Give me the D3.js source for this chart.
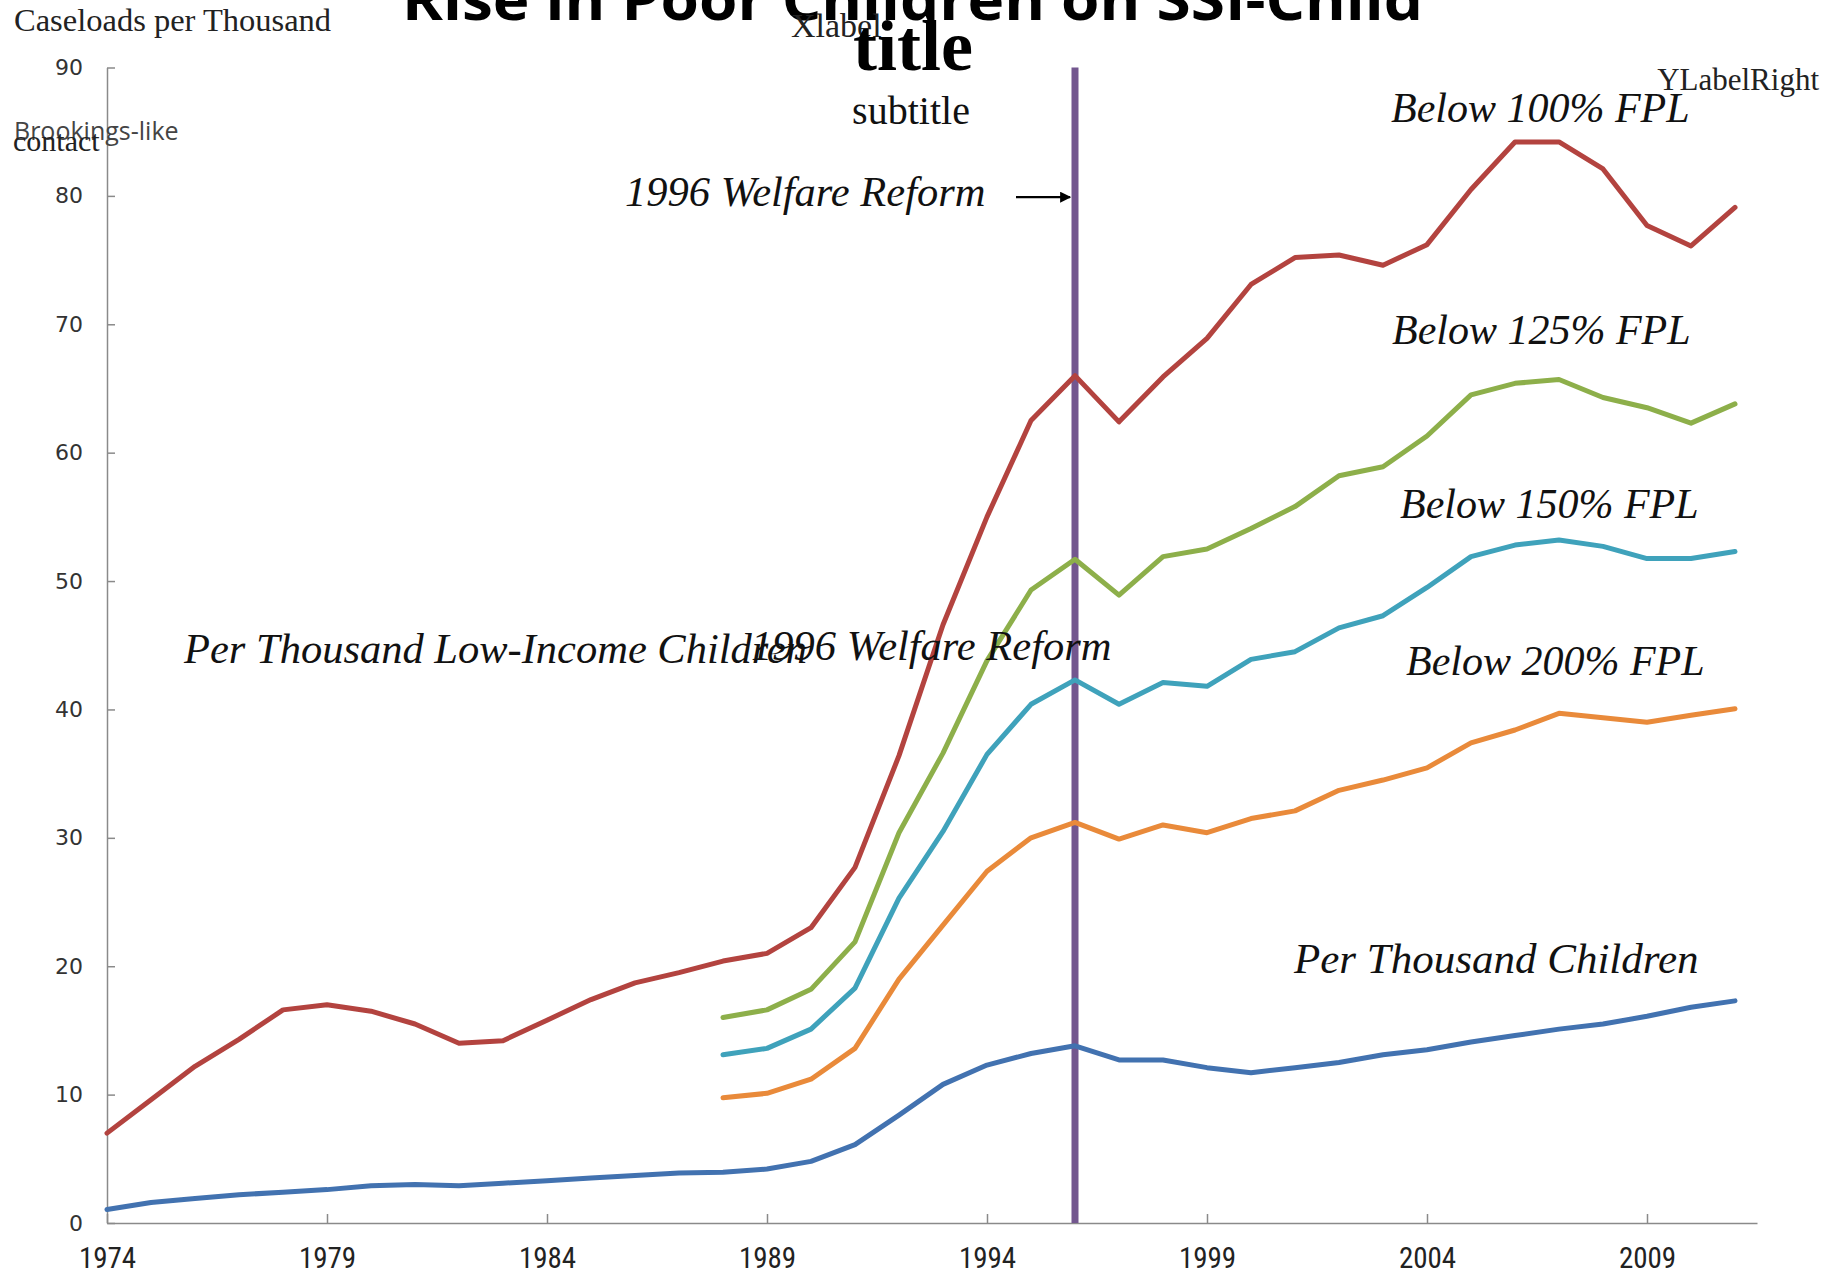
<!DOCTYPE html>
<html>
<head>
<meta charset="utf-8">
<script src="https://cdn.jsdelivr.net/npm/d3@7"></script>
<style>
  html, body { margin: 0; padding: 0; background: #ffffff; }
  svg { display: block; }
</style>
</head>
<body>
<script>
// SSI child caseloads per thousand, 1974-2011
const years = d3.range(1974, 2012);
const yearsFrom1988 = d3.range(1988, 2012);

// Per thousand low-income children (below 100% FPL), 1974-2011
const below100 = [7.0, 9.6, 12.2, 14.3, 16.6, 17.0, 16.5, 15.5, 14.0, 14.2,
                  15.8, 17.4, 18.7, 19.5, 20.4, 21.0, 23.0, 27.7, 36.4, 46.6,
                  55.0, 62.5, 66.0, 62.4, 65.9, 68.9, 73.1, 75.2, 75.4, 74.6,
                  76.2, 80.5, 84.2, 84.2, 82.1, 77.7, 76.1, 79.1];

// Per thousand children, 1974-2011
const perThousandChildren = [1.05, 1.6, 1.9, 2.2, 2.4, 2.6, 2.9, 3.0, 2.9, 3.1,
                             3.3, 3.5, 3.7, 3.9, 3.95, 4.2, 4.8, 6.1, 8.4, 10.8,
                             12.3, 13.2, 13.8, 12.7, 12.7, 12.1, 11.7, 12.1, 12.5, 13.1,
                             13.5, 14.1, 14.6, 15.1, 15.5, 16.1, 16.8, 17.3];

// Series available from 1988 onward
const below125 = [16.0, 16.6, 18.2, 21.9, 30.4, 36.6, 43.8, 49.3, 51.7, 48.9, 51.9, 52.5,
                  54.1, 55.8, 58.2, 58.9, 61.3, 64.5, 65.4, 65.7, 64.3, 63.5, 62.3, 63.8];
const below150 = [13.1, 13.6, 15.1, 18.3, 25.3, 30.5, 36.5, 40.4, 42.3, 40.4, 42.1, 41.8,
                  43.9, 44.5, 46.35, 47.3, 49.5, 51.9, 52.8, 53.2, 52.7, 51.75, 51.75, 52.3];
const below200 = [9.75, 10.1, 11.2, 13.6, 19.0, 23.2, 27.4, 30.0, 31.2, 29.9, 31.0, 30.4,
                  31.5, 32.1, 33.7, 34.5, 35.45, 37.4, 38.4, 39.7, 39.35, 39.0, 39.55, 40.05];

const yTicks = d3.range(0, 91, 10);
const xTicks = [1974, 1979, 1984, 1989, 1994, 1999, 2004, 2009];
const reformYear = 1996;

const W = 1825, H = 1276;
const svg = d3.select("body").append("svg")
  .attr("width", W).attr("height", H)
  .attr("viewBox", `0 0 ${W} ${H}`);

svg.append("rect").attr("width", W).attr("height", H).attr("fill", "#ffffff");

const x = d3.scaleLinear().domain([1974, 2011.5]).range([107, 1757]);
const y = d3.scaleLinear().domain([0, 90]).range([1223, 67.5]);

// Axes
const axisColor = "#8a8a8a";
const yAxis = svg.append("g")
  .attr("transform", `translate(${x(1974)},0)`)
  .call(d3.axisLeft(y).tickValues(yTicks).tickSizeInner(-8).tickSizeOuter(0).tickPadding(24));
yAxis.selectAll("text")
  .attr("font-family", "'DejaVu Sans', Verdana, sans-serif")
  .attr("font-size", 22)
  .attr("fill", "#333333");

const xAxis = svg.append("g")
  .attr("transform", `translate(0,${y(0)})`)
  .call(d3.axisBottom(x).tickValues(xTicks).tickFormat(d3.format("d"))
          .tickSizeInner(-9).tickSizeOuter(0).tickPadding(24));
xAxis.selectAll("text")
  .attr("font-family", "'Liberation Sans Narrow', 'Roboto Condensed', 'Arial Narrow', sans-serif")
  .attr("font-size", 29)
  .attr("fill", "#222222");

svg.selectAll(".domain, .tick line")
  .attr("stroke", axisColor)
  .attr("stroke-width", 1.5);

// Reform marker
svg.append("line")
  .attr("x1", x(reformYear)).attr("x2", x(reformYear))
  .attr("y1", y(0)).attr("y2", y(90))
  .attr("stroke", "#73578f")
  .attr("stroke-width", 7);

// Series lines
const line = d3.line()
  .x(d => x(d[0]))
  .y(d => y(d[1]));

const series = [
  { years: years, values: perThousandChildren, color: "#4272b0" },
  { years: yearsFrom1988, values: below200, color: "#e98a3a" },
  { years: yearsFrom1988, values: below150, color: "#3fa2bb" },
  { years: yearsFrom1988, values: below125, color: "#8daf4a" },
  { years: years, values: below100, color: "#b3433f" }
];

svg.append("g").selectAll("path")
  .data(series)
  .join("path")
  .attr("d", s => line(s.years.map((yr, i) => [yr, s.values[i]])))
  .attr("fill", "none")
  .attr("stroke", s => s.color)
  .attr("stroke-width", 5)
  .attr("stroke-linejoin", "round")
  .attr("stroke-linecap", "round");

// Arrow pointing at the reform marker
const defs = svg.append("defs");
defs.append("marker")
  .attr("id", "arrowhead")
  .attr("viewBox", "0 0 10 10")
  .attr("refX", 9).attr("refY", 5)
  .attr("markerWidth", 5).attr("markerHeight", 5)
  .attr("orient", "auto")
  .append("path")
  .attr("d", "M0,0 L10,5 L0,10 Z")
  .attr("fill", "#000");

svg.append("line")
  .attr("x1", x(reformYear) - 59).attr("x2", x(reformYear) - 5)
  .attr("y1", y(79.9)).attr("y2", y(79.9))
  .attr("stroke", "#000")
  .attr("stroke-width", 2.2)
  .attr("marker-end", "url(#arrowhead)");

// Text
const serif = "'Liberation Serif', 'Times New Roman', serif";
const italicLabels = [
  { text: "1996 Welfare Reform", x: 625, y: 206, size: 42.5 },
  { text: "Below 100% FPL", x: 1391, y: 122, size: 42 },
  { text: "Below 125% FPL", x: 1392, y: 344, size: 42 },
  { text: "Below 150% FPL", x: 1400, y: 518, size: 42 },
  { text: "Below 200% FPL", x: 1406, y: 675, size: 42 },
  { text: "Per Thousand Children", x: 1294, y: 973, size: 43 },
  { text: "Per Thousand Low-Income Children", x: 184, y: 663, size: 42.5 },
  { text: "1996 Welfare Reform", x: 751, y: 660, size: 42.5 }
];
svg.append("g").selectAll("text")
  .data(italicLabels)
  .join("text")
  .attr("x", d => d.x).attr("y", d => d.y)
  .attr("font-family", serif)
  .attr("font-style", "italic")
  .attr("font-size", d => d.size)
  .attr("fill", "#111")
  .text(d => d.text);

svg.append("text")
  .attr("x", 14).attr("y", 31)
  .attr("font-family", serif).attr("font-size", 32.5).attr("fill", "#222")
  .text("Caseloads per Thousand");

svg.append("text")
  .attr("x", 912.5).attr("y", 20)
  .attr("text-anchor", "middle")
  .attr("font-family", "'Open Sans', 'Noto Sans', sans-serif")
  .attr("font-weight", 700).attr("font-size", 58).attr("fill", "#000")
  .attr("textLength", 1021).attr("lengthAdjust", "spacingAndGlyphs")
  .text("Rise in Poor Children on SSI-Child");

svg.append("text")
  .attr("x", 791).attr("y", 37)
  .attr("font-family", serif).attr("font-size", 34).attr("fill", "#222")
  .text("Xlabel");

svg.append("text")
  .attr("x", 913).attr("y", 70)
  .attr("text-anchor", "middle")
  .attr("font-family", serif).attr("font-weight", 700).attr("font-size", 72).attr("fill", "#000")
  .text("title");

svg.append("text")
  .attr("x", 911).attr("y", 124)
  .attr("text-anchor", "middle")
  .attr("font-family", serif).attr("font-size", 40).attr("fill", "#111")
  .text("subtitle");

svg.append("text")
  .attr("x", 1819).attr("y", 90)
  .attr("text-anchor", "end")
  .attr("font-family", serif).attr("font-size", 31).attr("fill", "#222")
  .text("YLabelRight");

svg.append("text")
  .attr("x", 14).attr("y", 140)
  .attr("font-family", "'Open Sans', 'Noto Sans', sans-serif")
  .attr("font-size", 25).attr("fill", "#444")
  .text("Brookings-like");

svg.append("text")
  .attr("x", 13).attr("y", 151)
  .attr("font-family", serif).attr("font-size", 30).attr("fill", "#222")
  .text("contact");
</script>
</body>
</html>
